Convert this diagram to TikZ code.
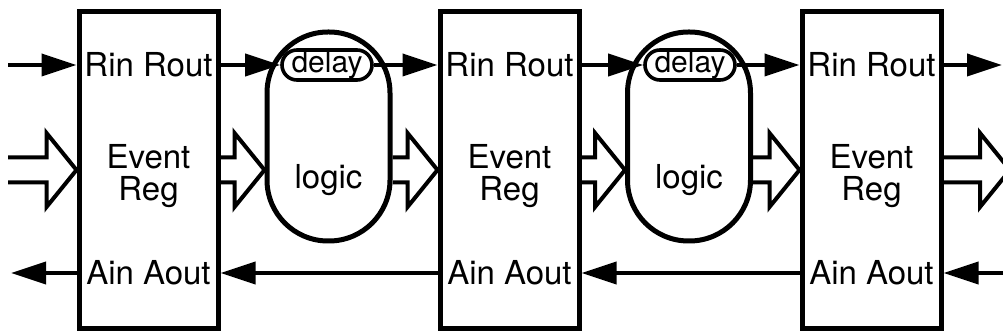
\documentclass[tikz,border=0pt]{standalone}
\usepackage{fontspec}
\setmainfont{TeX Gyre Heros}
\usetikzlibrary{arrows.meta,calc}
\newcommand{\fatarrow}[2]{%
  \draw[fat] let \p1=(#1), \p2=(#2) in
    (\x1,\y1+6.25pt) -- (\x2-15pt,\y1+6.25pt) -- (\x2-15pt,\y1+18.5pt) --
    (\x2,\y1) -- (\x2-15pt,\y1-18.5pt) -- (\x2-15pt,\y1-6.25pt) -- (\x1,\y1-6.25pt);}
\begin{document}
\begin{tikzpicture}[x=0.5pt,y=-0.5pt,
  box/.style={draw,line width=2.5pt,minimum width=69.5pt,minimum height=158.5pt,inner sep=0},
  stad/.style={draw,line width=2.5pt,minimum width=61.5pt,minimum height=104.5pt,rounded corners=30.5pt,inner sep=0},
  dly/.style={draw,fill=white,line width=1.8pt,minimum width=45pt,minimum height=15pt,rounded corners=7.5pt,inner sep=0,font=\fontsize{15}{15}\selectfont},
  lbl/.style={inner sep=0,font=\fontsize{16.5}{14.5}\selectfont,align=center},
  arr/.style={line width=2pt,-{Triangle[length=17.5pt,width=11pt]}},
  fat/.style={line width=2pt,line join=miter}]
\useasboundingbox (0,0) rectangle (1003,336);
\fill[white] (0,0) rectangle (1003,336);
\clip (0,0) rectangle (1003,336);

% logic stadia
\node[stad] (l1) at (328.5,136.5) {};
\node[stad] (l2) at (689,136.5) {};
\node[lbl,anchor=base] (g1) at (328.5,189) {logic};
\node[lbl,anchor=base] (g2) at (689,189) {logic};
\node[dly] (d1) at (327,65) {delay};
\node[dly] (d2) at (690,65) {delay};

% event registers
\node[box] (b1) at (148.5,170) {};
\node[box] (b2) at (509.5,170) {};
\node[box] (b3) at (871.5,170) {};
\foreach \i/\x in {1/148.5,2/509.5,3/871.5}{
  \node[lbl] (r\i) at (\x,65) {Rin Rout};
  \node[lbl,anchor=base] (e\i) at (\x,169) {Event};
  \node[lbl,anchor=base] (f\i) at (\x,201) {Reg};
  \node[lbl] (a\i) at (\x,273) {Ain Aout};
}

% free ends
\coordinate (tin) at (8,65);
\coordinate (tout) at (1002,65);
\coordinate (fin) at (8,170);
\coordinate (fout) at (1010,170);
\coordinate (bl) at (11,273);
\coordinate (br) at (1010,273);

% request line
\draw[arr] (tin) -- (b1.west |- tin);
\draw[arr] (b1.east |- d1) -- (d1.west);
\draw[arr] (d1.east) -- (b2.west |- d1);
\draw[arr] (b2.east |- d2) -- (d2.west);
\draw[arr] (d2.east) -- (b3.west |- d2);
\draw[arr] (b3.east |- tout) -- (tout);

% acknowledge line
\draw[arr] (b1.west |- a1) -- (bl);
\draw[arr] (b2.west |- a1) -- (b1.east |- a1);
\draw[arr] (b3.west |- a1) -- (b2.east |- a1);
\draw[arr] (br) -- (b3.east |- a1);

% data (hollow) arrows
\fatarrow{fin}{b1.west}
\fatarrow{b1.east}{l1.west |- b1.east}
\fatarrow{l1.east |- b2.west}{b2.west}
\fatarrow{b2.east}{l2.west |- b2.east}
\fatarrow{l2.east |- b3.west}{b3.west}
\fatarrow{b3.east}{fout}
\end{tikzpicture}
\end{document}
